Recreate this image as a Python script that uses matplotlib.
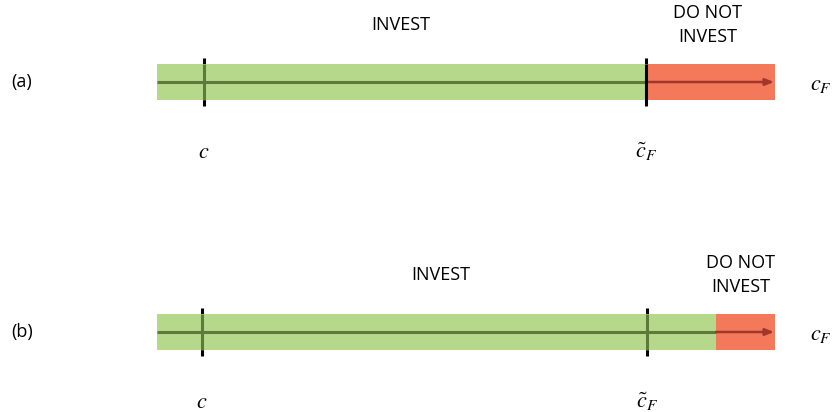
import matplotlib
matplotlib.use("Agg")
import matplotlib.pyplot as plt

# ---- data (diagram positions in horizontal units) ----
panel_labels = ["(a)", "(b)"]
row_y = [82, 332]                 # vertical centre of each panel's bar
axis_start = [157, 157]
axis_end = [775, 775]
c_pos = [204, 202]                # position of c
cF_tilde_pos = [646, 647]         # position of tilde c_F
red_start = [646, 716]            # where DO NOT INVEST begins
invest_x = [401, 441]
donot_x = [708, 741]

GREEN = "#b5d88a"
RED = "#f4795b"
DKGREEN = "#5c7b3b"
DKRED = "#a0372a"

fig = plt.figure(figsize=(8.33, 4.12), dpi=100)
ax = fig.add_axes([0, 0, 1, 1])
ax.set_xlim(0, 833)
ax.set_ylim(412, 0)
ax.axis("off")

plt.rcParams["mathtext.fontset"] = "stix"
font = ["Open Sans", "DejaVu Sans"]
bar_h = 36
tick_half = 24

for i in range(2):
    y = row_y[i]
    # black ticks (full length)
    for xp in (c_pos[i], cF_tilde_pos[i]):
        ax.plot([xp, xp], [y - tick_half, y + tick_half], color="black", lw=2.2,
                solid_capstyle="butt", zorder=1)
    # bars
    ax.barh(y, red_start[i] - axis_start[i], left=axis_start[i], height=bar_h,
            color=GREEN, edgecolor="none", zorder=2)
    ax.barh(y, axis_end[i] - red_start[i], left=red_start[i], height=bar_h,
            color=RED, edgecolor="none", zorder=2)
    # ticks inside bar
    for xp in (c_pos[i], cF_tilde_pos[i]):
        col = DKGREEN if xp < red_start[i] else "black"
        ax.plot([xp, xp], [y - bar_h / 2, y + bar_h / 2], color=col, lw=2.2,
                solid_capstyle="butt", zorder=4)
    # axis line
    ax.plot([axis_start[i], red_start[i]], [y, y], color=DKGREEN, lw=2.2,
            solid_capstyle="butt", zorder=3)
    ax.annotate("", xy=(axis_end[i] - 1, y), xytext=(red_start[i], y),
                arrowprops=dict(arrowstyle="-|>,head_length=0.5,head_width=0.2",
                                color=DKRED, lw=1.8, shrinkA=0, shrinkB=0),
                zorder=3)
    # labels
    ax.text(22, y, panel_labels[i], fontsize=13, family=font,
            ha="center", va="center")
    ax.text(invest_x[i], y - 57, "INVEST", fontsize=13, family=font,
            ha="center", va="center")
    ax.text(donot_x[i], y - 57, "DO NOT\nINVEST", fontsize=13, family=font,
            ha="center", va="center", linespacing=1.4)
    ax.text(821, y + 3, r"$c_F$", fontsize=16, ha="center", va="center")
    ax.text(c_pos[i], y + 70, r"$c$", fontsize=16, ha="center", va="center")
    ax.text(cF_tilde_pos[i], y + 70, r"$\tilde{c}_F$", fontsize=16,
            ha="center", va="center")

fig.savefig("out.png", dpi=100)
